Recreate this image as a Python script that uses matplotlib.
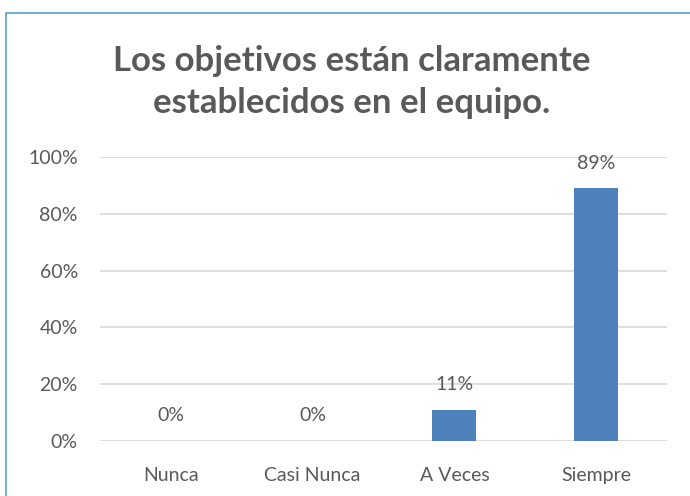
import matplotlib.pyplot as plt
from matplotlib.patches import Rectangle
from matplotlib.ticker import PercentFormatter

categories = ['Nunca', 'Casi Nunca', 'A Veces', 'Siempre']
values = [0, 0, 11, 89]
labels = ['0%', '0%', '11%', '89%']
y_ticks = [0, 20, 40, 60, 80, 100]

plt.rcParams['font.family'] = ['Lato', 'DejaVu Sans']
gray = '#595959'

fig = plt.figure(figsize=(6.9, 4.96), dpi=100)
# outer chart border (Excel style), cut off at right/bottom
fig.patches.append(Rectangle((6/690, -0.05), 1.1, (496-13)/496 + 0.05,
                             transform=fig.transFigure, fill=False,
                             edgecolor='#5b9bd5', linewidth=1.2))

ax = fig.add_axes([100/690, 1-441/496, (667-100)/690, (441-157)/496])
x = range(len(categories))
ax.bar(x, values, width=0.31, color='#4f81bd', zorder=3)
for i, v in enumerate(values):
    ax.annotate(labels[i], (i, v), xytext=(0, 12), textcoords='offset points',
                ha='center', va='bottom', fontsize=14, color=gray, zorder=4)

ax.set_xlim(-0.5, len(categories) - 0.5)
ax.set_ylim(0, 100)
ax.set_yticks(y_ticks)
ax.yaxis.set_major_formatter(PercentFormatter(decimals=0))
ax.set_xticks(list(x))
ax.set_xticklabels(categories)
ax.tick_params(axis='both', length=0, labelsize=14, labelcolor=gray)
ax.tick_params(axis='x', pad=19)
ax.tick_params(axis='y', pad=16)
ax.grid(axis='y', color='#d9d9d9', linewidth=1.2, zorder=0)
for s in ax.spines.values():
    s.set_visible(False)

fig.text(352/690, 1-82/496, 'Los objetivos están claramente\nestablecidos en el equipo.',
         ha='center', va='center', fontsize=25, fontweight='bold', color=gray,
         linespacing=1.4)

fig.savefig('out.png', dpi=100)
